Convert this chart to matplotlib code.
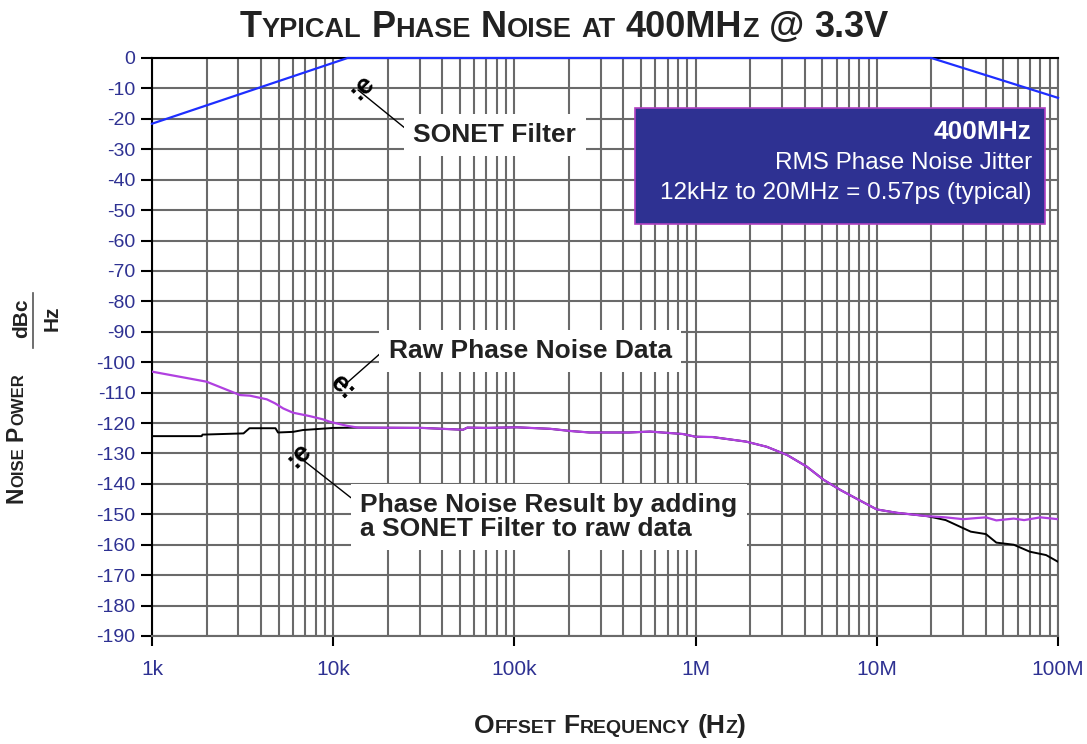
import matplotlib
matplotlib.use('Agg')
import matplotlib.pyplot as plt
from matplotlib.transforms import IdentityTransform
from matplotlib.patches import Rectangle
from matplotlib.ticker import FixedLocator, NullFormatter, LogLocator

plt.rcParams['font.family'] = ['Liberation Sans', 'DejaVu Sans']
plt.rcParams['axes.unicode_minus'] = False

# data
sonet_f = [1e3, 12e3, 20e6, 100e6]
sonet_db = [-21.6, 0, 0, -13.1]

raw_f = [1e3, 2e3, 3.06e3, 3.47e3, 4.3e3, 4.77e3, 5.3e3, 6.0e3, 7.4e3, 8.8e3, 9.6e3,
         11.9e3, 13.7e3, 31e3, 52e3, 55e3, 70e3, 103e3, 158e3, 203e3, 260e3, 430e3,
         560e3, 850e3, 1e6, 1.24e6, 1.9e6, 2.47e6, 3.2e6, 4.1e6, 5.1e6, 6.3e6, 7.7e6,
         10e6, 12.9e6, 19e6, 24e6, 30e6, 36e6, 40e6, 45.7e6, 57e6, 65e6, 80e6, 100e6]
raw_db = [-103.1, -106.4, -110.8, -111.0, -112.2, -113.5, -115.2, -116.6, -117.7, -118.8, -119.6,
          -120.9, -121.5, -121.6, -122.2, -121.5, -121.6, -121.4, -121.9, -122.6, -123.1, -123.1,
          -122.8, -123.6, -124.5, -124.6, -126.1, -127.8, -130.5, -134.3, -138.7, -142.0, -144.8,
          -148.4, -149.5, -150.6, -151.0, -151.6, -151.2, -151.0, -152.0, -151.4, -151.9, -151.0, -151.6]

res_f = [1e3, 1.88e3, 1.9e3, 3.2e3, 3.45e3, 4.8e3, 4.96e3, 6.0e3, 6.8e3, 10e3, 13.7e3,
         31e3, 52e3, 55e3, 70e3, 103e3, 158e3, 203e3, 260e3, 430e3, 560e3, 850e3, 1e6,
         1.24e6, 1.9e6, 2.47e6, 3.2e6, 4.1e6, 5.1e6, 6.3e6, 7.7e6, 10e6, 12.9e6, 19e6,
         24e6, 33e6, 40e6, 45.7e6, 57e6, 70e6, 86e6, 100e6]
res_db = [-124.3, -124.3, -123.8, -123.4, -121.7, -121.7, -123.1, -122.9, -122.3, -121.6, -121.5,
          -121.6, -122.2, -121.5, -121.6, -121.4, -121.9, -122.6, -123.1, -123.1, -122.8, -123.6, -124.5,
          -124.6, -126.1, -127.8, -130.5, -134.3, -138.7, -142.0, -144.8, -148.4, -149.5, -150.6,
          -151.9, -155.7, -156.5, -159.3, -160.0, -162.3, -163.4, -165.6]

xticks = [1e3, 1e4, 1e5, 1e6, 1e7, 1e8]
xlabels = ['1k', '10k', '100k', '1M', '10M', '100M']
yticks = list(range(0, -200, -10))

navy = '#2e3192'
grid_c = '#6a6a6a'

fig = plt.figure(figsize=(10.87, 7.44), dpi=100)
ax = fig.add_axes([152/1087, 108/744, 906/1087, 578/744])

ax.plot(sonet_f, sonet_db, color='#1e2eff', lw=1.6, zorder=6, clip_on=False)
ax.plot(res_f, res_db, color='black', lw=1.4, zorder=4)
ax.plot(raw_f, raw_db, color='#b040e0', lw=1.6, zorder=4.5)

ax.set_xscale('log')
ax.set_xlim(1e3, 1e8)
ax.set_ylim(-190, 0)
ax.xaxis.set_major_locator(FixedLocator(xticks))
ax.set_xticklabels(xlabels)
ax.xaxis.set_minor_locator(LogLocator(base=10, subs=range(2, 10)))
ax.xaxis.set_minor_formatter(NullFormatter())
ax.set_yticks(yticks)
ax.set_yticklabels([str(v) for v in yticks])
ax.grid(True, which='both', color=grid_c, lw=1.5)
ax.set_axisbelow(True)
ax.tick_params(axis='x', which='major', direction='out', length=7, width=1.5, color='black',
               pad=10, labelsize=15, labelcolor=navy)
ax.tick_params(axis='x', which='minor', length=0)
ax.tick_params(axis='y', direction='out', length=8, width=1.5, color='black',
               pad=4, labelsize=14, labelcolor=navy)
for s in ['left', 'top']:
    ax.spines[s].set_color('black')
    ax.spines[s].set_linewidth(1.5)
for s in ['right', 'bottom']:
    ax.spines[s].set_color(grid_c)
    ax.spines[s].set_linewidth(1.5)

# info box
ax.add_patch(Rectangle((0.533, 0.7128), 0.4527, 0.2007, transform=ax.transAxes,
                       fc=navy, ec='#b040c0', lw=1.2, zorder=7))
ax.text(0.971, 0.872, '400MHz', transform=ax.transAxes, ha='right', va='center',
        color='white', fontsize=19, fontweight='bold', zorder=8)
ax.text(0.971, 0.8183, 'RMS Phase Noise Jitter', transform=ax.transAxes, ha='right',
        va='center', color='white', fontsize=17.5, zorder=8)
ax.text(0.971, 0.7664, '12kHz to 20MHz = 0.57ps (typical)', transform=ax.transAxes,
        ha='right', va='center', color='white', fontsize=17.5, zorder=8)

# annotations
box = dict(boxstyle='square,pad=0.35', fc='white', ec='none')
lead = dict(arrowstyle='-', color='black', lw=1, shrinkA=0, shrinkB=0)
ax.annotate('SONET Filter', xy=(13.7e3, -10.5), xytext=(78e3, -25.3), ha='center', va='center',
            fontsize=19, fontweight='bold', color='#222222', bbox=box,
            arrowprops=dict(lead, relpos=(0, 0.5)), zorder=5)
ax.annotate('Raw Phase Noise Data', xy=(11.3e3, -108), xytext=(122e3, -96.3), ha='center',
            va='center', fontsize=19, fontweight='bold', color='#222222', bbox=box,
            arrowprops=dict(lead, relpos=(0, 0.7)), zorder=5)
ax.annotate('Phase Noise Result by adding\na SONET Filter to raw data', xy=(6.83e3, -132.2),
            xytext=(14.1e3, -150.9), ha='left', va='center', fontsize=19, fontweight='bold',
            color='#222222', bbox=box, linespacing=1.0,
            arrowprops=dict(lead, relpos=(0, 0.75)), zorder=5)
ax.text(14.4e3, -9.5, ':e', rotation=45, ha='center', va='center', fontsize=20,
        fontweight='bold', zorder=6)
ax.text(11.3e3, -108.5, 'e:', rotation=-45, ha='center', va='center', fontsize=20,
        fontweight='bold', zorder=6)
ax.text(6.5e3, -130.5, ':e', rotation=45, ha='center', va='center', fontsize=20,
        fontweight='bold', zorder=6)

# small caps text helpers
r = fig.canvas.get_renderer()


def caps_runs(s):
    runs = []
    for ch in s:
        if ch == ' ':
            runs.append([' ', None])
            continue
        small = ch.islower()
        if runs and runs[-1][1] == small:
            runs[-1][0] += ch.upper()
        else:
            runs.append([ch.upper(), small])
    return runs


def small_caps(cx, y, s, big, small, vertical=False):
    items = []
    pos = 0
    for txt, sm in caps_runs(s):
        if sm is None:
            pos += 0.278 * big * 100 / 72
            continue
        fs = small if sm else big
        t = fig.text(0, 0, txt, fontsize=fs, fontweight='bold', color='#222222',
                     transform=IdentityTransform(), rotation=90 if vertical else 0,
                     rotation_mode='anchor', ha='left', va='baseline')
        ext = t.get_window_extent(r)
        items.append((t, pos))
        pos += ext.height if vertical else ext.width
    for t, p in items:
        if vertical:
            t.set_position((cx, y + p))
        else:
            t.set_position((cx - pos / 2 + p, y))
    return pos


small_caps(564, 707, 'Typical Phase Noise at 400MHz @ 3.3V', 26, 19.5)
small_caps(610, 11, 'Offset Frequency (Hz)', 19, 14)
small_caps(23, 241, 'Noise Power', 16.5, 12, vertical=True)

fig.text(27, 744 - 318, 'dBc', transform=IdentityTransform(), rotation=90, rotation_mode='anchor',
         ha='center', va='baseline', fontsize=15, fontweight='bold', color='#222222')
fig.text(58, 744 - 318, 'Hz', transform=IdentityTransform(), rotation=90, rotation_mode='anchor',
         ha='center', va='baseline', fontsize=15, fontweight='bold', color='#222222')
fig.add_artist(plt.Line2D([33, 33], [744 - 348, 744 - 293], transform=IdentityTransform(),
                          color='#555555', lw=1.2))

fig.savefig('out.png', dpi=100)
